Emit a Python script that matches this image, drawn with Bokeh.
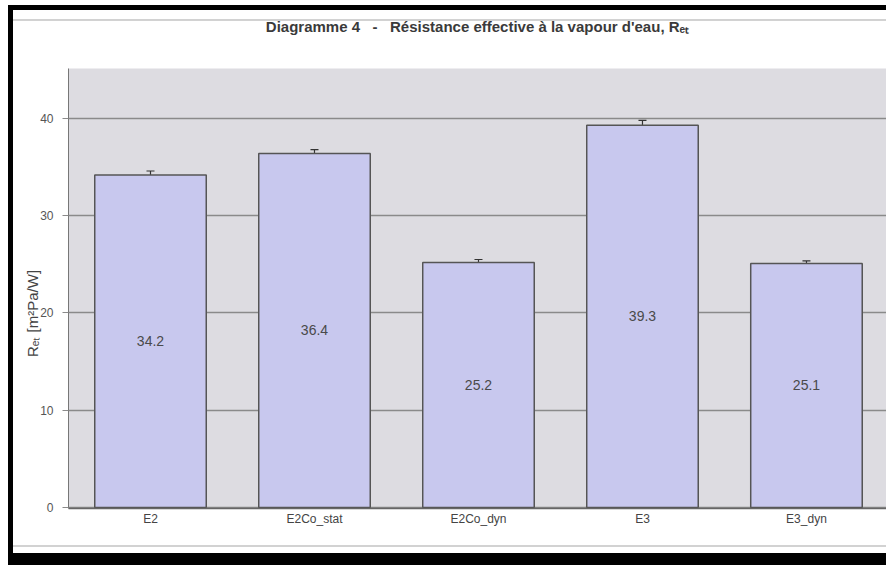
from bokeh.plotting import figure
from bokeh.models import Range1d, FixedTicker, Whisker, ColumnDataSource, TeeHead, Title
from bokeh.core.properties import value
from bokeh.embed import file_html
from bokeh.resources import INLINE

categories = ["E2", "E2Co_stat", "E2Co_dyn", "E3", "E3_dyn"]
values = [34.2, 36.4, 25.2, 39.3, 25.1]
errors = [0.4, 0.4, 0.3, 0.5, 0.25]
y_ticks = [0, 10, 20, 30, 40]

xs = list(range(len(categories)))
src = ColumnDataSource(dict(
    x=xs,
    top=values,
    mid=[v / 2 for v in values],
    lab=[f"{v:.1f}" for v in values],
    lo=[v - e for v, e in zip(values, errors)],
    hi=[v + e for v, e in zip(values, errors)],
))

FONT = "Liberation Sans"
W, H = 886, 565

p = figure(width=W, height=H, output_backend="svg", toolbar_location=None,
           x_range=Range1d(-0.5, 4.488), y_range=Range1d(-0.103, 45.14),
           min_border_left=68, min_border_right=0, min_border_top=68, min_border_bottom=57,
           background_fill_color="#dddce1", border_fill_color=None, title=None)

# scanned page frame (black edges, thin gray chart border) drawn as page background
layers = [
    ("black", "8px 5px", "878px 5px"),
    ("black", "8px 5px", "5px 560px"),
    ("black", "8px 553px", "878px 12px"),
    ("#d2d2d2", "13px 19px", "873px 2px"),
    ("#d2d2d2", "13px 545px", "873px 2px"),
]
p.styles = {
    "background-color": "white",
    "background-image": ", ".join(f"linear-gradient({c}, {c})" for c, _, _ in layers),
    "background-position": ", ".join(pos for _, pos, _ in layers),
    "background-size": ", ".join(sz for _, _, sz in layers),
    "background-repeat": "no-repeat",
}

# spacer then main title (first added sits closest to the frame)
p.add_layout(Title(text=" ", text_font_size="15px", text_color="white"), "above")
p.add_layout(Title(text="Diagramme 4 \u00a0\u00a0-\u00a0\u00a0 Résistance effective à la vapour d'eau, Rₑₜ",
                   align="center", text_font=FONT, text_font_size="15px",
                   text_color="#3a3a3a", text_font_style="bold"), "above")

p.outline_line_color = None
p.xgrid.grid_line_color = None
p.ygrid.grid_line_color = "#8a8a8a"
p.ygrid.grid_line_width = 1.5
p.ygrid.ticker = FixedTicker(ticks=y_ticks)

p.vbar(x="x", top="top", bottom=0, width=0.68, source=src,
       fill_color="#c8c8ee", line_color="#555555", line_width=1.5)

p.add_layout(Whisker(source=src, base="x", lower="lo", upper="hi",
                     line_color="#333333", line_width=1.2,
                     upper_head=TeeHead(size=8, line_color="#333333", line_width=1.2),
                     lower_head=TeeHead(size=8, line_color="#333333", line_width=1.2)))

p.text(x="x", y="mid", text="lab", source=src, text_align="center", text_baseline="middle",
       text_font=value(FONT), text_font_size="14px", text_color="#4a4a4a")

# axes
p.yaxis.ticker = FixedTicker(ticks=y_ticks)
p.yaxis.axis_label = "Rₑₜ [m²Pa/W]" + "\u00a0" * 12
p.yaxis.axis_label_text_font = FONT
p.yaxis.axis_label_text_font_style = "normal"
p.yaxis.axis_label_text_font_size = "15px"
p.yaxis.axis_label_text_color = "#444444"
p.yaxis.axis_label_standoff = -4
p.yaxis.major_label_text_font = FONT
p.yaxis.major_label_text_font_size = "12px"
p.yaxis.major_label_text_color = "#555555"
p.yaxis.major_label_standoff = 9
p.yaxis.axis_line_color = "#777777"
p.yaxis.major_tick_line_color = "#8a8a8a"
p.yaxis.major_tick_out = 6
p.yaxis.major_tick_in = 0
p.yaxis.minor_tick_line_color = None

p.xaxis.ticker = FixedTicker(ticks=xs)
p.xaxis.major_label_overrides = {i: c for i, c in zip(xs, categories)}
p.xaxis.major_label_text_font = FONT
p.xaxis.major_label_text_font_size = "12px"
p.xaxis.major_label_text_color = "#444444"
p.xaxis.major_label_standoff = 3
p.xaxis.axis_line_color = "#666666"
p.xaxis.axis_line_width = 1.5
p.xaxis.major_tick_out = 0
p.xaxis.major_tick_in = 0
p.xaxis.major_tick_line_color = None
p.xaxis.minor_tick_line_color = None

open("out.html", "w").write(file_html(p, INLINE))
